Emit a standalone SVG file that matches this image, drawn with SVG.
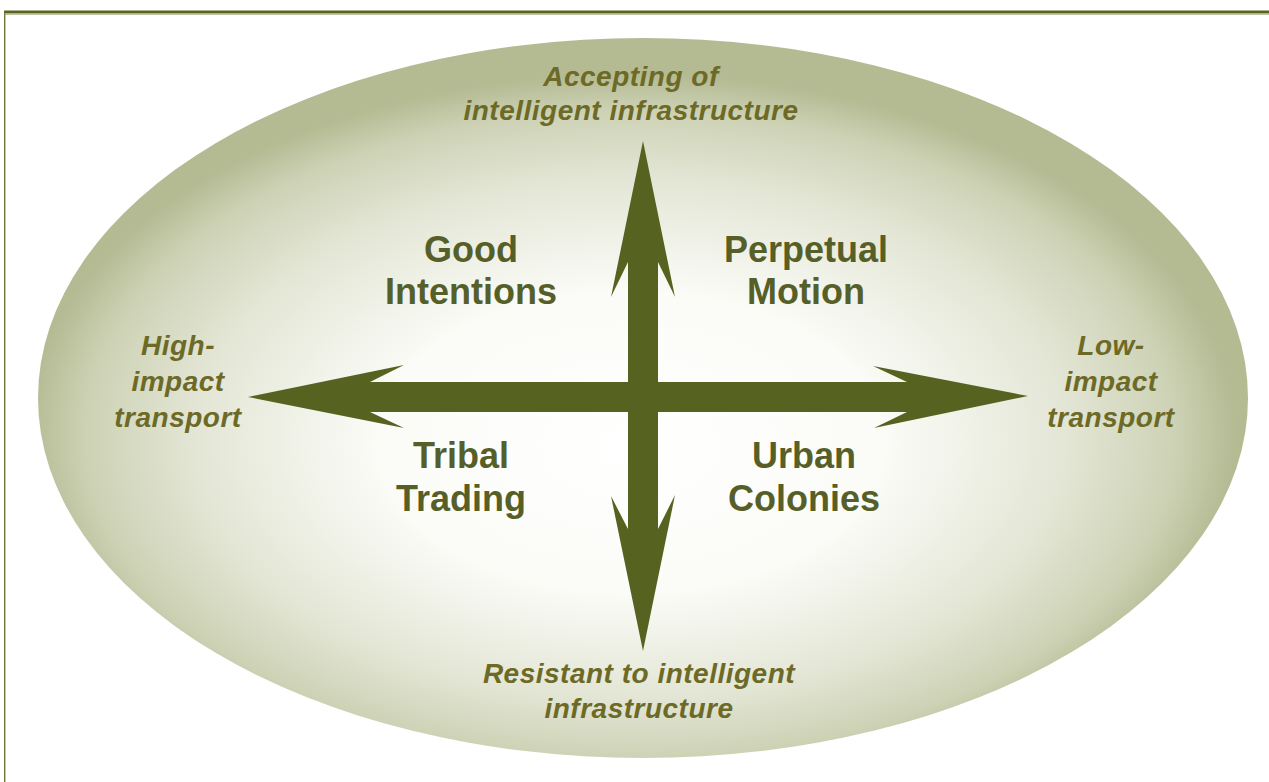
<svg xmlns="http://www.w3.org/2000/svg" width="1269" height="782" viewBox="0 0 1269 782">
  <defs>
    <radialGradient id="bg" cx="0.49" cy="0.55" r="0.5" fx="0.49" fy="0.57">
      <stop offset="0" stop-color="#ffffff"/>
      <stop offset="0.42" stop-color="#fbfbf7"/>
      <stop offset="0.72" stop-color="#e3e6d5"/>
      <stop offset="0.9" stop-color="#cdd2b5"/>
      <stop offset="1" stop-color="#b4ba92"/>
    </radialGradient>
    <style>
      .axis { font-family: "Liberation Sans", Arial, sans-serif; font-weight: bold; font-style: italic; font-size: 28px; fill: #6c6a26; text-anchor: middle; letter-spacing: 0.5px; }
      .quad { font-family: "Liberation Sans", Arial, sans-serif; font-weight: bold; font-size: 36px; fill: #575f28; text-anchor: middle; }
      .arrow { fill: #566320; }
    </style>
  </defs>
  <rect width="1269" height="782" fill="#ffffff"/>
  <rect x="4" y="10.5" width="1265" height="3" fill="#5a6423"/>
  <rect x="4" y="13.5" width="1265" height="1.2" fill="#a9b07c"/>
  <rect x="4" y="13.5" width="1.4" height="768.5" fill="#6e7640"/>
  <ellipse cx="643" cy="398" rx="605" ry="360" fill="url(#bg)"/>

  <g id="connectors">
    <polygon class="arrow" points="643,141 675,297 658,262 658,529 675,495 643,651 611,496 628,529 628,262 611,297"/>
    <polygon class="arrow" points="248,397 404,365 370,382 907,382 873,366 1028,396 874,428 907,412 370,412 404,428"/>
  </g>

  <g id="top-label">
    <text class="axis" x="631" y="86">Accepting of</text>
    <text class="axis" x="631" y="120">intelligent infrastructure</text>
  </g>
  <g id="bottom-label">
    <text class="axis" x="639" y="683">Resistant to intelligent</text>
    <text class="axis" x="639" y="718">infrastructure</text>
  </g>
  <g id="left-label">
    <text class="axis" x="178" y="355">High-</text>
    <text class="axis" x="178" y="391">impact</text>
    <text class="axis" x="178" y="427">transport</text>
  </g>
  <g id="right-label">
    <text class="axis" x="1111" y="355">Low-</text>
    <text class="axis" x="1111" y="391">impact</text>
    <text class="axis" x="1111" y="427">transport</text>
  </g>

  <g id="good-intentions">
    <text class="quad" x="471" y="262">Good</text>
    <text class="quad" x="471" y="304">Intentions</text>
  </g>
  <g id="perpetual-motion">
    <text class="quad" x="806" y="262">Perpetual</text>
    <text class="quad" x="806" y="304">Motion</text>
  </g>
  <g id="tribal-trading">
    <text class="quad" x="461" y="468">Tribal</text>
    <text class="quad" x="461" y="511">Trading</text>
  </g>
  <g id="urban-colonies">
    <text class="quad" x="804" y="468">Urban</text>
    <text class="quad" x="804" y="511">Colonies</text>
  </g>
</svg>
